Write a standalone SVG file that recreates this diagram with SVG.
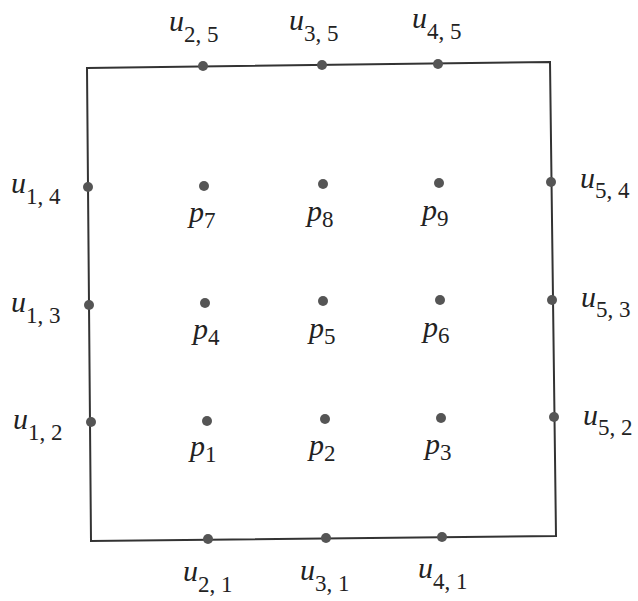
<svg xmlns="http://www.w3.org/2000/svg" width="638" height="601" viewBox="0 0 638 601">
<defs>
<style>
.frame{fill:none;stroke:#333;stroke-width:2}
.dot{fill:#555}
text{font-family:"Liberation Serif",serif;fill:#222}
</style>
</defs>
<rect width="638" height="601" fill="#fff"/>
<g id="connectors">
<polygon class="frame" points="87,68 550,62 556,536 91,541"/>
</g>
<g id="u25"><circle class="dot" cx="203" cy="66" r="5"/><text x="169" y="31" font-family="Liberation Serif"><tspan font-style="italic" font-size="30">u</tspan><tspan font-size="23" dy="11">2, 5</tspan></text></g>
<g id="u35"><circle class="dot" cx="322" cy="65" r="5"/><text x="289" y="30" font-family="Liberation Serif"><tspan font-style="italic" font-size="30">u</tspan><tspan font-size="23" dy="11">3, 5</tspan></text></g>
<g id="u45"><circle class="dot" cx="438" cy="64" r="5"/><text x="412" y="28" font-family="Liberation Serif"><tspan font-style="italic" font-size="30">u</tspan><tspan font-size="23" dy="11">4, 5</tspan></text></g>
<g id="u14"><circle class="dot" cx="88" cy="187" r="5"/><text x="11" y="193" font-family="Liberation Serif"><tspan font-style="italic" font-size="30">u</tspan><tspan font-size="23" dy="11">1, 4</tspan></text></g>
<g id="u13"><circle class="dot" cx="89" cy="305" r="5"/><text x="11" y="312" font-family="Liberation Serif"><tspan font-style="italic" font-size="30">u</tspan><tspan font-size="23" dy="11">1, 3</tspan></text></g>
<g id="u12"><circle class="dot" cx="91" cy="422" r="5"/><text x="13" y="429" font-family="Liberation Serif"><tspan font-style="italic" font-size="30">u</tspan><tspan font-size="23" dy="11">1, 2</tspan></text></g>
<g id="u54"><circle class="dot" cx="551" cy="182" r="5"/><text x="580" y="188" font-family="Liberation Serif"><tspan font-style="italic" font-size="30">u</tspan><tspan font-size="23" dy="10">5, 4</tspan></text></g>
<g id="u53"><circle class="dot" cx="552" cy="300" r="5"/><text x="581" y="307" font-family="Liberation Serif"><tspan font-style="italic" font-size="30">u</tspan><tspan font-size="23" dy="10">5, 3</tspan></text></g>
<g id="u52"><circle class="dot" cx="554" cy="417" r="5"/><text x="583" y="425" font-family="Liberation Serif"><tspan font-style="italic" font-size="30">u</tspan><tspan font-size="23" dy="10">5, 2</tspan></text></g>
<g id="u21"><circle class="dot" cx="208" cy="539" r="5"/><text x="183" y="581" font-family="Liberation Serif"><tspan font-style="italic" font-size="30">u</tspan><tspan font-size="23" dy="11">2, 1</tspan></text></g>
<g id="u31"><circle class="dot" cx="326" cy="538" r="5"/><text x="300" y="580" font-family="Liberation Serif"><tspan font-style="italic" font-size="30">u</tspan><tspan font-size="23" dy="11">3, 1</tspan></text></g>
<g id="u41"><circle class="dot" cx="442" cy="537" r="5"/><text x="418" y="578" font-family="Liberation Serif"><tspan font-style="italic" font-size="30">u</tspan><tspan font-size="23" dy="11">4, 1</tspan></text></g>
<g id="p7"><circle class="dot" cx="204" cy="186" r="5"/><text x="189" y="222" font-family="Liberation Serif"><tspan font-style="italic" font-size="30">p</tspan><tspan font-size="23" dy="6">7</tspan></text></g>
<g id="p8"><circle class="dot" cx="323" cy="184" r="5"/><text x="307" y="221" font-family="Liberation Serif"><tspan font-style="italic" font-size="30">p</tspan><tspan font-size="23" dy="6">8</tspan></text></g>
<g id="p9"><circle class="dot" cx="439" cy="183" r="5"/><text x="422" y="220" font-family="Liberation Serif"><tspan font-style="italic" font-size="30">p</tspan><tspan font-size="23" dy="6">9</tspan></text></g>
<g id="p4"><circle class="dot" cx="205" cy="303" r="5"/><text x="193" y="339" font-family="Liberation Serif"><tspan font-style="italic" font-size="30">p</tspan><tspan font-size="23" dy="6">4</tspan></text></g>
<g id="p5"><circle class="dot" cx="323" cy="301" r="5"/><text x="309" y="338" font-family="Liberation Serif"><tspan font-style="italic" font-size="30">p</tspan><tspan font-size="23" dy="6">5</tspan></text></g>
<g id="p6"><circle class="dot" cx="440" cy="300" r="5"/><text x="423" y="337" font-family="Liberation Serif"><tspan font-style="italic" font-size="30">p</tspan><tspan font-size="23" dy="6">6</tspan></text></g>
<g id="p1"><circle class="dot" cx="207" cy="421" r="5"/><text x="190" y="456" font-family="Liberation Serif"><tspan font-style="italic" font-size="30">p</tspan><tspan font-size="23" dy="6">1</tspan></text></g>
<g id="p2"><circle class="dot" cx="325" cy="419" r="5"/><text x="309" y="455" font-family="Liberation Serif"><tspan font-style="italic" font-size="30">p</tspan><tspan font-size="23" dy="6">2</tspan></text></g>
<g id="p3"><circle class="dot" cx="441" cy="418" r="5"/><text x="425" y="454" font-family="Liberation Serif"><tspan font-style="italic" font-size="30">p</tspan><tspan font-size="23" dy="6">3</tspan></text></g>
</svg>
